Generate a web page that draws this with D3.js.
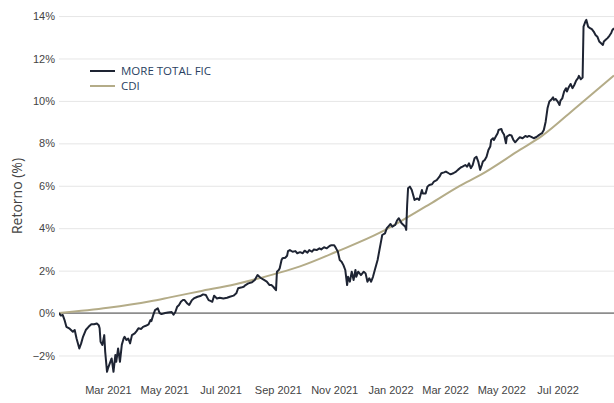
<!DOCTYPE html>
<html>
<head>
<meta charset="utf-8">
<script src="https://cdn.jsdelivr.net/npm/d3@7"></script>
<style>
body { margin: 0; background: #fff; }
svg { display: block; font-family: "Open Sans", verdana, arial, sans-serif; }
.grid line { stroke: #e6e6e6; stroke-width: 1; }
.tick text { fill: #444; font-size: 11px; }
.zero { stroke: #444; stroke-width: 1; }
.fund { fill: none; stroke: #1e2433; stroke-width: 2; stroke-linejoin: round; }
.cdi { fill: none; stroke: #b4ac88; stroke-width: 2; }
.legend text { fill: #2a3f5f; font-size: 11.5px; }
</style>
</head>
<body>
<svg width="614" height="403"></svg>
<script>
var seriesNames = ["MORE TOTAL FIC", "CDI"];

// retorno acumulado (%) do fundo
var fundSeries = [
  ["2021-01-07", 0], ["2021-01-09", -0.12], ["2021-01-11", -0.09], ["2021-01-13", -0.33],
  ["2021-01-15", -0.65], ["2021-01-18", -0.72], ["2021-01-20", -0.8], ["2021-01-22", -0.88],
  ["2021-01-24", -0.8], ["2021-01-26", -1.2], ["2021-01-29", -1.67], ["2021-01-31", -1.43],
  ["2021-02-02", -1.12], ["2021-02-05", -0.8], ["2021-02-08", -0.65], ["2021-02-11", -0.53],
  ["2021-02-14", -0.53], ["2021-02-17", -0.49], ["2021-02-19", -0.57], ["2021-02-20", -0.72],
  ["2021-02-21", -1.35], ["2021-02-23", -1.5], ["2021-02-25", -1.04], ["2021-02-26", -1.82],
  ["2021-02-28", -2.77], ["2021-03-01", -2.61], ["2021-03-03", -2.37], ["2021-03-05", -2.14],
  ["2021-03-07", -2.77], ["2021-03-09", -1.98], ["2021-03-10", -2.3], ["2021-03-12", -1.67],
  ["2021-03-14", -2.3], ["2021-03-16", -1.5], ["2021-03-18", -1.2], ["2021-03-19", -1.12],
  ["2021-03-21", -1.27], ["2021-03-23", -1.2], ["2021-03-25", -1.43], ["2021-03-27", -1.04],
  ["2021-03-30", -0.96], ["2021-04-01", -0.85], ["2021-04-03", -0.72], ["2021-04-06", -0.75],
  ["2021-04-08", -0.65], ["2021-04-11", -0.6], ["2021-04-14", -0.53], ["2021-04-16", -0.33],
  ["2021-04-17", -0.38], ["2021-04-19", -0.1], ["2021-04-21", 0.14], ["2021-04-24", 0.22],
  ["2021-04-26", 0.0], ["2021-04-28", -0.05], ["2021-05-02", 0.0], ["2021-05-05", 0.03],
  ["2021-05-09", 0.05], ["2021-05-11", -0.08], ["2021-05-13", 0.05], ["2021-05-15", 0.3],
  ["2021-05-17", 0.38], ["2021-05-19", 0.53], ["2021-05-21", 0.61], ["2021-05-23", 0.61],
  ["2021-05-26", 0.45], ["2021-05-28", 0.38], ["2021-05-31", 0.61], ["2021-06-02", 0.69],
  ["2021-06-06", 0.77], ["2021-06-09", 0.8], ["2021-06-12", 0.88], ["2021-06-15", 0.85],
  ["2021-06-18", 0.61], ["2021-06-20", 0.57], ["2021-06-22", 0.53], ["2021-06-24", 0.82],
  ["2021-06-27", 0.69], ["2021-06-30", 0.72], ["2021-07-04", 0.69], ["2021-07-08", 0.72],
  ["2021-07-11", 0.77], ["2021-07-15", 0.82], ["2021-07-18", 0.93], ["2021-07-20", 1.17],
  ["2021-07-23", 1.2], ["2021-07-26", 1.24], ["2021-07-28", 1.32], ["2021-07-31", 1.4],
  ["2021-08-04", 1.45], ["2021-08-07", 1.56], ["2021-08-10", 1.79], ["2021-08-12", 1.71],
  ["2021-08-14", 1.64], ["2021-08-17", 1.56], ["2021-08-20", 1.48], ["2021-08-23", 1.32],
  ["2021-08-25", 1.32], ["2021-08-27", 1.24], ["2021-08-30", 1.08], ["2021-08-31", 1.95],
  ["2021-09-02", 2.03], ["2021-09-03", 2.11], ["2021-09-05", 2.5], ["2021-09-06", 2.58],
  ["2021-09-09", 2.61], ["2021-09-11", 2.7], ["2021-09-12", 2.92], ["2021-09-14", 2.97],
  ["2021-09-17", 2.89], ["2021-09-20", 2.92], ["2021-09-22", 2.82], ["2021-09-25", 2.87],
  ["2021-09-28", 2.82], ["2021-09-30", 2.94], ["2021-10-03", 2.85], ["2021-10-05", 2.97],
  ["2021-10-08", 2.89], ["2021-10-10", 3.0], ["2021-10-13", 2.97], ["2021-10-16", 3.05],
  ["2021-10-18", 3.0], ["2021-10-21", 3.1], ["2021-10-24", 3.05], ["2021-10-27", 3.16],
  ["2021-10-29", 3.2], ["2021-11-01", 3.2], ["2021-11-03", 3.05], ["2021-11-05", 2.89],
  ["2021-11-07", 2.5], ["2021-11-09", 2.42], ["2021-11-11", 2.26], ["2021-11-13", 2.03],
  ["2021-11-15", 1.32], ["2021-11-16", 1.71], ["2021-11-18", 1.48], ["2021-11-20", 1.95],
  ["2021-11-22", 1.56], ["2021-11-24", 2.03], ["2021-11-25", 1.71], ["2021-11-27", 1.95],
  ["2021-11-30", 1.79], ["2021-12-03", 1.95], ["2021-12-05", 1.87], ["2021-12-07", 1.48],
  ["2021-12-09", 1.64], ["2021-12-11", 1.48], ["2021-12-13", 1.71], ["2021-12-15", 2.03],
  ["2021-12-18", 2.5], ["2021-12-20", 2.97], ["2021-12-22", 3.44], ["2021-12-23", 3.68],
  ["2021-12-26", 3.76], ["2021-12-28", 4.0], ["2021-12-30", 4.1], ["2022-01-01", 4.2],
  ["2022-01-03", 4.07], ["2022-01-06", 4.15], ["2022-01-08", 4.36], ["2022-01-10", 4.47],
  ["2022-01-13", 4.23], ["2022-01-15", 4.15], ["2022-01-17", 4.07], ["2022-01-18", 3.92],
  ["2022-01-19", 5.09], ["2022-01-20", 5.88], ["2022-01-22", 5.96], ["2022-01-24", 5.8],
  ["2022-01-26", 5.49], ["2022-01-27", 5.33], ["2022-01-30", 5.4], ["2022-02-01", 5.33],
  ["2022-02-04", 5.8], ["2022-02-05", 5.64], ["2022-02-08", 5.64], ["2022-02-10", 5.96],
  ["2022-02-12", 6.04], ["2022-02-15", 6.07], ["2022-02-17", 6.2], ["2022-02-20", 6.27],
  ["2022-02-23", 6.43], ["2022-02-25", 6.59], ["2022-02-28", 6.63], ["2022-03-02", 6.67],
  ["2022-03-05", 6.59], ["2022-03-07", 6.54], ["2022-03-10", 6.59], ["2022-03-13", 6.67],
  ["2022-03-15", 6.75], ["2022-03-18", 6.86], ["2022-03-20", 6.9], ["2022-03-23", 6.98],
  ["2022-03-25", 6.9], ["2022-03-27", 7.06], ["2022-03-29", 6.83], ["2022-03-31", 6.98],
  ["2022-04-02", 7.3], ["2022-04-04", 7.37], ["2022-04-06", 7.14], ["2022-04-08", 6.75],
  ["2022-04-10", 7.0], ["2022-04-11", 7.14], ["2022-04-13", 7.22], ["2022-04-15", 7.37],
  ["2022-04-17", 7.69], ["2022-04-19", 7.85], ["2022-04-20", 8.16], ["2022-04-22", 8.24],
  ["2022-04-23", 8.16], ["2022-04-25", 8.32], ["2022-04-27", 8.48], ["2022-04-28", 8.63],
  ["2022-05-01", 8.68], ["2022-05-02", 8.55], ["2022-05-04", 8.4], ["2022-05-06", 8.0],
  ["2022-05-07", 8.32], ["2022-05-10", 8.4], ["2022-05-12", 8.37], ["2022-05-14", 8.16],
  ["2022-05-16", 8.05], ["2022-05-19", 8.2], ["2022-05-21", 8.29], ["2022-05-24", 8.24],
  ["2022-05-27", 8.35], ["2022-05-29", 8.3], ["2022-05-31", 8.35], ["2022-06-03", 8.29],
  ["2022-06-05", 8.24], ["2022-06-08", 8.3], ["2022-06-11", 8.4], ["2022-06-14", 8.48],
  ["2022-06-16", 8.63], ["2022-06-18", 9.02], ["2022-06-20", 9.65], ["2022-06-22", 9.97],
  ["2022-06-24", 10.05], ["2022-06-26", 10.17], ["2022-06-27", 10.05], ["2022-06-29", 10.09],
  ["2022-07-01", 9.97], ["2022-07-03", 9.81], ["2022-07-04", 10.01], ["2022-07-06", 10.12],
  ["2022-07-08", 10.44], ["2022-07-10", 10.6], ["2022-07-11", 10.44], ["2022-07-13", 10.65],
  ["2022-07-15", 10.8], ["2022-07-17", 10.6], ["2022-07-19", 10.75], ["2022-07-21", 10.96],
  ["2022-07-23", 11.07], ["2022-07-24", 11.18], ["2022-07-26", 11.02], ["2022-07-28", 11.1],
  ["2022-07-29", 13.5], ["2022-07-31", 13.74], ["2022-08-01", 13.82], ["2022-08-03", 13.5],
  ["2022-08-05", 13.43], ["2022-08-07", 13.38], ["2022-08-09", 13.27], ["2022-08-11", 13.11],
  ["2022-08-13", 13.03], ["2022-08-15", 12.8], ["2022-08-17", 12.72], ["2022-08-19", 12.64],
  ["2022-08-20", 12.8], ["2022-08-22", 12.88], ["2022-08-24", 12.96], ["2022-08-26", 13.07],
  ["2022-08-28", 13.2], ["2022-08-29", 13.32], ["2022-08-31", 13.43]
];

// retorno acumulado (%) do CDI
var cdiSeries = [
  ["2021-01-07", 0], ["2021-03-01", 0.25], ["2021-04-16", 0.56], ["2021-05-07", 0.74],
  ["2021-06-09", 1.03], ["2021-07-17", 1.36], ["2021-08-31", 1.87], ["2021-09-25", 2.2],
  ["2021-11-04", 2.9], ["2021-12-21", 3.8], ["2022-01-11", 4.3], ["2022-02-13", 5.15],
  ["2022-03-17", 6.0], ["2022-04-08", 6.5], ["2022-05-21", 7.69], ["2022-06-14", 8.35],
  ["2022-07-22", 9.73], ["2022-08-31", 11.2]
];

var yTicks = [-2, 0, 2, 4, 6, 8, 10, 12, 14];
var xTicks = ["2021-03-01", "2021-05-01", "2021-07-01", "2021-09-01", "2021-11-01",
              "2022-01-01", "2022-03-01", "2022-05-01", "2022-07-01"];
var xStart = "2021-01-07", xEnd = "2022-08-31";

var parse = d3.timeParse("%Y-%m-%d");
var fmtMonth = d3.timeFormat("%b %Y");

var plotLeft = 59, plotRight = 614, plotTop = 8, plotBottom = 375;

var svg = d3.select("svg");

var x = d3.scaleTime()
  .domain([parse(xStart), parse(xEnd)])
  .range([plotLeft, plotRight]);

var y = d3.scaleLinear()
  .domain([-2.92, 14.38])
  .range([plotBottom, plotTop]);

svg.append("defs").append("clipPath").attr("id", "plot")
  .append("rect")
  .attr("x", plotLeft).attr("y", plotTop - 4)
  .attr("width", plotRight - plotLeft + 2).attr("height", plotBottom - plotTop + 8);

// grade horizontal + rotulos do eixo y
var yAxis = d3.axisLeft(y)
  .tickValues(yTicks)
  .tickSize(-(plotRight - plotLeft))
  .tickPadding(4)
  .tickFormat(function(d) { return (d < 0 ? "\u2212" + Math.abs(d) : d) + "%"; });

svg.append("g")
  .attr("class", "grid")
  .attr("transform", "translate(" + plotLeft + ",0)")
  .call(yAxis)
  .call(function(g) { g.select(".domain").remove(); });

// eixo x, so os rotulos
var xAxis = d3.axisBottom(x)
  .tickValues(xTicks.map(parse))
  .tickSize(0)
  .tickPadding(0)
  .tickFormat(fmtMonth);

svg.append("g")
  .attr("transform", "translate(0,386)")
  .call(xAxis)
  .call(function(g) { g.select(".domain").remove(); });

svg.append("line")
  .attr("class", "zero")
  .attr("x1", plotLeft).attr("x2", plotRight)
  .attr("y1", y(0)).attr("y2", y(0));

svg.append("text")
  .attr("transform", "translate(22,196) rotate(-90)")
  .attr("text-anchor", "middle")
  .attr("fill", "#444")
  .style("font-size", "14px")
  .text("Retorno (%)");

var plot = svg.append("g").attr("clip-path", "url(#plot)");

var lineCdi = d3.line()
  .curve(d3.curveMonotoneX)
  .x(function(d) { return x(parse(d[0])); })
  .y(function(d) { return y(d[1]); });

var lineFund = d3.line()
  .x(function(d) { return x(parse(d[0])); })
  .y(function(d) { return y(d[1]); });

plot.append("path").attr("class", "cdi").attr("d", lineCdi(cdiSeries));
plot.append("path").attr("class", "fund").attr("d", lineFund(fundSeries));

// legenda
var legend = svg.append("g").attr("class", "legend");
var legendY = [71, 86];
var legendClass = ["fund", "cdi"];
seriesNames.forEach(function(name, i) {
  legend.append("line")
    .attr("class", legendClass[i])
    .attr("x1", 90).attr("x2", 115)
    .attr("y1", legendY[i]).attr("y2", legendY[i]);
  legend.append("text")
    .attr("x", 121).attr("y", legendY[i])
    .attr("dy", "0.35em")
    .text(name);
});
</script>
</body>
</html>
